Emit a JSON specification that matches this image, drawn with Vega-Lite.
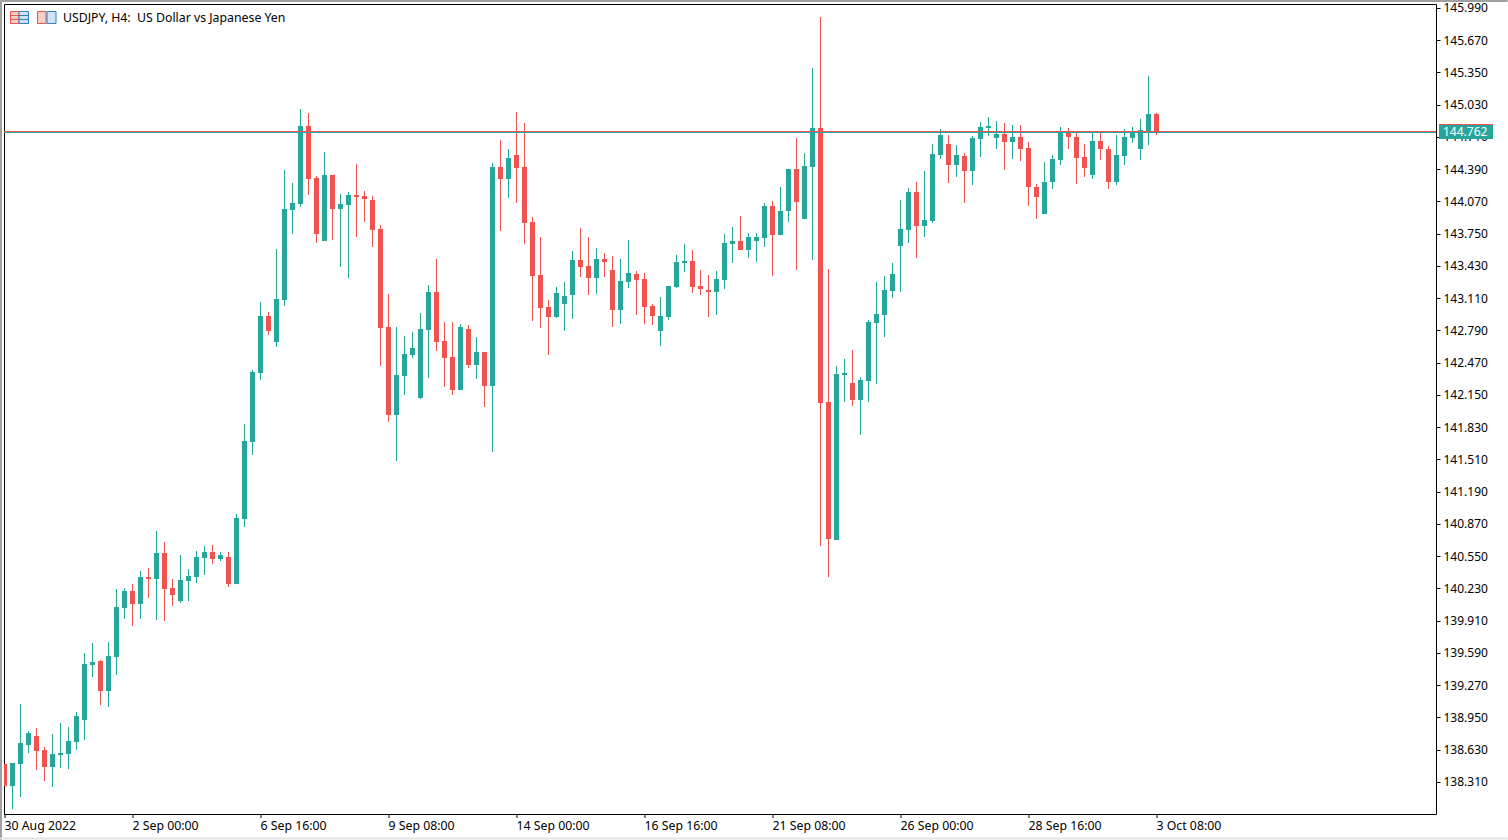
{"$schema":"https://vega.github.io/schema/vega-lite/v6.json","width":1432,"height":810,"autosize":{"type":"none"},"padding":{"left":4,"top":4,"right":72,"bottom":26},"background":"#ffffff","view":{"stroke":"#000000","strokeWidth":1,"fill":"#ffffff"},"config":{"font":"Noto Sans","axis":{"labelOverlap":false,"labelSeparation":0}},
"datasets":{"candles":[
{"t":0,"o":138.488,"h":138.488,"l":138.269,"c":138.269,"d":"down"},
{"t":1,"o":138.269,"h":138.498,"l":138.041,"c":138.498,"d":"up"},
{"t":2,"o":138.488,"h":139.083,"l":138.160,"c":138.696,"d":"up"},
{"t":3,"o":138.676,"h":138.815,"l":138.597,"c":138.795,"d":"up"},
{"t":4,"o":138.766,"h":138.845,"l":138.428,"c":138.617,"d":"down"},
{"t":5,"o":138.627,"h":138.656,"l":138.319,"c":138.458,"d":"down"},
{"t":6,"o":138.458,"h":138.785,"l":138.260,"c":138.587,"d":"up"},
{"t":7,"o":138.577,"h":138.895,"l":138.448,"c":138.597,"d":"up"},
{"t":8,"o":138.587,"h":138.855,"l":138.438,"c":138.716,"d":"up"},
{"t":9,"o":138.706,"h":139.004,"l":138.627,"c":138.964,"d":"up"},
{"t":10,"o":138.924,"h":139.589,"l":138.726,"c":139.480,"d":"up"},
{"t":11,"o":139.470,"h":139.688,"l":139.351,"c":139.500,"d":"up"},
{"t":12,"o":139.510,"h":139.520,"l":139.073,"c":139.212,"d":"down"},
{"t":13,"o":139.212,"h":139.698,"l":139.053,"c":139.559,"d":"up"},
{"t":14,"o":139.550,"h":140.224,"l":139.371,"c":140.046,"d":"up"},
{"t":15,"o":140.036,"h":140.234,"l":139.927,"c":140.205,"d":"up"},
{"t":16,"o":140.205,"h":140.274,"l":139.857,"c":140.076,"d":"down"},
{"t":17,"o":140.076,"h":140.403,"l":139.927,"c":140.343,"d":"up"},
{"t":18,"o":140.343,"h":140.433,"l":140.135,"c":140.324,"d":"down"},
{"t":19,"o":140.324,"h":140.800,"l":139.917,"c":140.582,"d":"up"},
{"t":20,"o":140.582,"h":140.691,"l":139.907,"c":140.224,"d":"down"},
{"t":21,"o":140.234,"h":140.324,"l":140.056,"c":140.165,"d":"down"},
{"t":22,"o":140.105,"h":140.562,"l":140.085,"c":140.314,"d":"up"},
{"t":23,"o":140.304,"h":140.423,"l":140.105,"c":140.353,"d":"up"},
{"t":24,"o":140.343,"h":140.601,"l":140.284,"c":140.542,"d":"up"},
{"t":25,"o":140.532,"h":140.651,"l":140.363,"c":140.592,"d":"up"},
{"t":26,"o":140.592,"h":140.661,"l":140.472,"c":140.522,"d":"down"},
{"t":27,"o":140.522,"h":140.592,"l":140.502,"c":140.562,"d":"up"},
{"t":28,"o":140.542,"h":140.592,"l":140.244,"c":140.274,"d":"down"},
{"t":29,"o":140.274,"h":140.969,"l":140.274,"c":140.929,"d":"up"},
{"t":30,"o":140.919,"h":141.862,"l":140.840,"c":141.693,"d":"up"},
{"t":31,"o":141.683,"h":142.398,"l":141.554,"c":142.378,"d":"up"},
{"t":32,"o":142.368,"h":143.072,"l":142.298,"c":142.933,"d":"up"},
{"t":33,"o":142.933,"h":142.973,"l":142.745,"c":142.785,"d":"down"},
{"t":34,"o":142.675,"h":143.598,"l":142.626,"c":143.102,"d":"up"},
{"t":35,"o":143.092,"h":144.382,"l":143.033,"c":143.995,"d":"up"},
{"t":36,"o":143.985,"h":144.253,"l":143.747,"c":144.055,"d":"up"},
{"t":37,"o":144.045,"h":144.987,"l":144.015,"c":144.819,"d":"up"},
{"t":38,"o":144.819,"h":144.948,"l":144.134,"c":144.293,"d":"down"},
{"t":39,"o":144.303,"h":144.323,"l":143.658,"c":143.747,"d":"down"},
{"t":40,"o":143.678,"h":144.561,"l":143.678,"c":144.333,"d":"up"},
{"t":41,"o":144.333,"h":144.333,"l":143.687,"c":143.995,"d":"down"},
{"t":42,"o":143.995,"h":144.144,"l":143.420,"c":144.045,"d":"up"},
{"t":43,"o":144.035,"h":144.164,"l":143.310,"c":144.134,"d":"up"},
{"t":44,"o":144.134,"h":144.442,"l":143.717,"c":144.114,"d":"down"},
{"t":45,"o":144.124,"h":144.174,"l":143.866,"c":144.094,"d":"down"},
{"t":46,"o":144.084,"h":144.124,"l":143.618,"c":143.787,"d":"down"},
{"t":47,"o":143.797,"h":143.836,"l":142.437,"c":142.814,"d":"down"},
{"t":48,"o":142.824,"h":143.152,"l":141.882,"c":141.951,"d":"down"},
{"t":49,"o":141.951,"h":142.824,"l":141.495,"c":142.348,"d":"up"},
{"t":50,"o":142.338,"h":142.735,"l":142.149,"c":142.556,"d":"up"},
{"t":51,"o":142.546,"h":142.775,"l":142.517,"c":142.616,"d":"up"},
{"t":52,"o":142.120,"h":142.963,"l":142.110,"c":142.804,"d":"up"},
{"t":53,"o":142.794,"h":143.241,"l":142.318,"c":143.171,"d":"up"},
{"t":54,"o":143.171,"h":143.499,"l":142.586,"c":142.675,"d":"down"},
{"t":55,"o":142.685,"h":142.874,"l":142.229,"c":142.517,"d":"down"},
{"t":56,"o":142.526,"h":142.874,"l":142.149,"c":142.199,"d":"down"},
{"t":57,"o":142.199,"h":142.854,"l":142.199,"c":142.824,"d":"up"},
{"t":58,"o":142.804,"h":142.844,"l":142.417,"c":142.447,"d":"down"},
{"t":59,"o":142.447,"h":142.725,"l":142.308,"c":142.576,"d":"up"},
{"t":60,"o":142.576,"h":142.576,"l":142.030,"c":142.239,"d":"down"},
{"t":61,"o":142.239,"h":144.452,"l":141.584,"c":144.412,"d":"up"},
{"t":62,"o":144.412,"h":144.680,"l":143.777,"c":144.293,"d":"down"},
{"t":63,"o":144.293,"h":144.590,"l":144.104,"c":144.501,"d":"up"},
{"t":64,"o":144.531,"h":144.958,"l":144.055,"c":144.402,"d":"down"},
{"t":65,"o":144.412,"h":144.848,"l":143.648,"c":143.856,"d":"down"},
{"t":66,"o":143.866,"h":143.916,"l":142.884,"c":143.330,"d":"down"},
{"t":67,"o":143.340,"h":143.717,"l":142.814,"c":143.013,"d":"down"},
{"t":68,"o":143.023,"h":143.092,"l":142.546,"c":142.923,"d":"down"},
{"t":69,"o":142.923,"h":143.221,"l":142.914,"c":143.162,"d":"up"},
{"t":70,"o":143.052,"h":143.271,"l":142.785,"c":143.132,"d":"up"},
{"t":71,"o":143.142,"h":143.578,"l":142.904,"c":143.489,"d":"up"},
{"t":72,"o":143.489,"h":143.807,"l":143.320,"c":143.420,"d":"down"},
{"t":73,"o":143.430,"h":143.717,"l":143.142,"c":143.310,"d":"down"},
{"t":74,"o":143.310,"h":143.608,"l":143.152,"c":143.499,"d":"up"},
{"t":75,"o":143.499,"h":143.558,"l":143.320,"c":143.469,"d":"down"},
{"t":76,"o":143.390,"h":143.529,"l":142.824,"c":142.993,"d":"down"},
{"t":77,"o":142.993,"h":143.499,"l":142.854,"c":143.281,"d":"up"},
{"t":78,"o":143.271,"h":143.687,"l":143.211,"c":143.360,"d":"up"},
{"t":79,"o":143.350,"h":143.380,"l":142.943,"c":143.291,"d":"down"},
{"t":80,"o":143.300,"h":143.360,"l":142.854,"c":143.023,"d":"down"},
{"t":81,"o":143.033,"h":143.052,"l":142.844,"c":142.933,"d":"down"},
{"t":82,"o":142.785,"h":143.122,"l":142.636,"c":142.933,"d":"up"},
{"t":83,"o":142.923,"h":143.231,"l":142.894,"c":143.231,"d":"up"},
{"t":84,"o":143.221,"h":143.539,"l":143.211,"c":143.469,"d":"up"},
{"t":85,"o":143.459,"h":143.648,"l":143.370,"c":143.479,"d":"up"},
{"t":86,"o":143.479,"h":143.588,"l":143.162,"c":143.221,"d":"down"},
{"t":87,"o":143.231,"h":143.390,"l":143.142,"c":143.201,"d":"down"},
{"t":88,"o":143.191,"h":143.340,"l":142.923,"c":143.171,"d":"down"},
{"t":89,"o":143.171,"h":143.380,"l":142.943,"c":143.300,"d":"up"},
{"t":90,"o":143.291,"h":143.747,"l":143.201,"c":143.658,"d":"up"},
{"t":91,"o":143.648,"h":143.816,"l":143.459,"c":143.678,"d":"up"},
{"t":92,"o":143.678,"h":143.926,"l":143.588,"c":143.588,"d":"down"},
{"t":93,"o":143.588,"h":143.757,"l":143.509,"c":143.717,"d":"up"},
{"t":94,"o":143.678,"h":143.757,"l":143.469,"c":143.717,"d":"up"},
{"t":95,"o":143.707,"h":144.055,"l":143.618,"c":144.025,"d":"up"},
{"t":96,"o":144.025,"h":144.075,"l":143.330,"c":143.737,"d":"down"},
{"t":97,"o":143.737,"h":144.213,"l":143.737,"c":143.975,"d":"up"},
{"t":98,"o":143.975,"h":144.392,"l":143.866,"c":144.392,"d":"up"},
{"t":99,"o":144.392,"h":144.700,"l":143.390,"c":144.065,"d":"down"},
{"t":100,"o":143.896,"h":144.551,"l":143.896,"c":144.422,"d":"up"},
{"t":101,"o":144.412,"h":145.394,"l":143.489,"c":144.799,"d":"up"},
{"t":102,"o":144.799,"h":145.900,"l":140.651,"c":142.070,"d":"down"},
{"t":103,"o":142.080,"h":143.400,"l":140.343,"c":140.720,"d":"down"},
{"t":104,"o":140.711,"h":142.437,"l":140.711,"c":142.358,"d":"up"},
{"t":105,"o":142.348,"h":142.507,"l":142.080,"c":142.368,"d":"up"},
{"t":106,"o":142.268,"h":142.596,"l":142.040,"c":142.100,"d":"down"},
{"t":107,"o":142.100,"h":142.328,"l":141.752,"c":142.298,"d":"up"},
{"t":108,"o":142.288,"h":142.894,"l":142.080,"c":142.874,"d":"up"},
{"t":109,"o":142.864,"h":143.271,"l":142.259,"c":142.953,"d":"up"},
{"t":110,"o":142.943,"h":143.330,"l":142.725,"c":143.191,"d":"up"},
{"t":111,"o":143.181,"h":143.459,"l":143.112,"c":143.350,"d":"up"},
{"t":112,"o":143.628,"h":144.084,"l":143.171,"c":143.797,"d":"up"},
{"t":113,"o":143.787,"h":144.203,"l":143.658,"c":144.164,"d":"up"},
{"t":114,"o":144.164,"h":144.263,"l":143.509,"c":143.826,"d":"down"},
{"t":115,"o":143.826,"h":144.372,"l":143.717,"c":143.886,"d":"up"},
{"t":116,"o":143.876,"h":144.640,"l":143.856,"c":144.541,"d":"up"},
{"t":117,"o":144.531,"h":144.789,"l":144.491,"c":144.729,"d":"up"},
{"t":118,"o":144.640,"h":144.729,"l":144.253,"c":144.432,"d":"down"},
{"t":119,"o":144.432,"h":144.630,"l":144.313,"c":144.531,"d":"up"},
{"t":120,"o":144.521,"h":144.551,"l":144.055,"c":144.372,"d":"down"},
{"t":121,"o":144.372,"h":144.720,"l":144.233,"c":144.700,"d":"up"},
{"t":122,"o":144.690,"h":144.858,"l":144.511,"c":144.809,"d":"up"},
{"t":123,"o":144.799,"h":144.908,"l":144.720,"c":144.819,"d":"up"},
{"t":124,"o":144.700,"h":144.868,"l":144.590,"c":144.739,"d":"up"},
{"t":125,"o":144.739,"h":144.848,"l":144.382,"c":144.660,"d":"down"},
{"t":126,"o":144.660,"h":144.829,"l":144.491,"c":144.710,"d":"up"},
{"t":127,"o":144.710,"h":144.829,"l":144.471,"c":144.590,"d":"down"},
{"t":128,"o":144.600,"h":144.660,"l":144.025,"c":144.213,"d":"down"},
{"t":129,"o":144.213,"h":144.243,"l":143.896,"c":144.114,"d":"down"},
{"t":130,"o":143.945,"h":144.461,"l":143.945,"c":144.263,"d":"up"},
{"t":131,"o":144.263,"h":144.531,"l":144.194,"c":144.491,"d":"up"},
{"t":132,"o":144.481,"h":144.809,"l":144.432,"c":144.769,"d":"up"},
{"t":133,"o":144.769,"h":144.799,"l":144.590,"c":144.710,"d":"down"},
{"t":134,"o":144.710,"h":144.759,"l":144.243,"c":144.501,"d":"down"},
{"t":135,"o":144.511,"h":144.640,"l":144.313,"c":144.402,"d":"down"},
{"t":136,"o":144.333,"h":144.759,"l":144.293,"c":144.670,"d":"up"},
{"t":137,"o":144.670,"h":144.769,"l":144.481,"c":144.590,"d":"down"},
{"t":138,"o":144.590,"h":144.620,"l":144.194,"c":144.263,"d":"down"},
{"t":139,"o":144.263,"h":144.729,"l":144.233,"c":144.531,"d":"up"},
{"t":140,"o":144.521,"h":144.789,"l":144.432,"c":144.710,"d":"up"},
{"t":141,"o":144.700,"h":144.809,"l":144.650,"c":144.749,"d":"up"},
{"t":142,"o":144.590,"h":144.888,"l":144.481,"c":144.779,"d":"up"},
{"t":143,"o":144.769,"h":145.315,"l":144.630,"c":144.938,"d":"up"},
{"t":144,"o":144.938,"h":144.948,"l":144.729,"c":144.749,"d":"down"}
],"levels":[{"d":"down","price":144.764},{"d":"up","price":144.754}]},
"layer":[
{"data":{"name":"candles"},"mark":{"type":"rule","strokeWidth":1,"clip":true},"encoding":{
"x":{"field":"t","type":"quantitative","scale":{"domain":[-0.0625,178.9375],"nice":false,"zero":false,"padding":0},"axis":{"title":null,"translate":0,"domain":false,"values":[0,16,32,48,64,80,96,112,128,144],"labelExpr":"['30 Aug 2022','2 Sep 00:00','6 Sep 16:00','9 Sep 08:00','14 Sep 00:00','16 Sep 16:00','21 Sep 08:00','26 Sep 00:00','28 Sep 16:00','3 Oct 08:00'][datum.value/16]","grid":false,"tickColor":"#000000","tickSize":4,"labelAlign":"left","labelBaseline":"top","labelPadding":2,"labelFontSize":12.3,"labelFont":"Noto Sans","labelColor":"#000000","labelFlush":false,"labelBound":false,"labelOverlap":false}},
"y":{"field":"h","type":"quantitative","scale":{"domain":[137.992,146.029],"nice":false,"zero":false,"padding":0},"axis":{"title":null,"orient":"right","domain":false,"tickCount":25,"values":[145.99,145.67,145.35,145.03,144.71,144.39,144.07,143.75,143.43,143.11,142.79,142.47,142.15,141.83,141.51,141.19,140.87,140.55,140.23,139.91,139.59,139.27,138.95,138.63,138.31],"format":".3f","grid":false,"tickColor":"#000000","tickSize":4,"labelPadding":3,"labelFontSize":12,"labelFont":"Noto Sans","labelColor":"#000000","labelFlush":false,"labelBound":false,"labelOverlap":false}},
"y2":{"field":"l"},
"color":{"field":"d","type":"nominal","scale":{"domain":["up","down"],"range":["#26A69A","#EF5350"]},"legend":null}}},
{"data":{"name":"candles"},"mark":{"type":"bar","width":5,"clip":true},"encoding":{"x":{"field":"t","type":"quantitative"},"y":{"field":"o","type":"quantitative"},"y2":{"field":"c"},"color":{"field":"d","type":"nominal","legend":null}}},
{"data":{"name":"levels"},"mark":{"type":"rule","strokeWidth":1,"clip":true},"encoding":{"y":{"field":"price","type":"quantitative"},"color":{"field":"d","type":"nominal","legend":null}}},
{"data":{"values":[{"tag":"144.762"}]},"mark":{"type":"rect","fill":"#26A69A","clip":false},"encoding":{"x":{"datum":179.3125,"type":"quantitative"},"x2":{"datum":186.0625},"y":{"datum":144.829,"type":"quantitative"},"y2":{"datum":144.690}}},
{"data":{"values":[{"tag":"144.762"}]},"mark":{"type":"rect","fill":"#EF5350","clip":false},"encoding":{"x":{"datum":179.3125,"type":"quantitative"},"x2":{"datum":186.0625},"y":{"datum":144.839,"type":"quantitative"},"y2":{"datum":144.829}}},
{"data":{"values":[{"tag":"144.762"}]},"mark":{"type":"text","color":"#ffffff","align":"left","baseline":"middle","fontSize":12,"font":"Noto Sans","clip":false},"encoding":{"x":{"datum":179.8125,"type":"quantitative"},"y":{"datum":144.759,"type":"quantitative"},"text":{"field":"tag"}}},
{"data":{"values":[{"label":"USDJPY, H4:\u00a0 US Dollar vs Japanese Yen"}]},"mark":{"type":"text","color":"#000000","align":"left","baseline":"middle","fontSize":12.3,"font":"Noto Sans"},"encoding":{"x":{"datum":7.31,"type":"quantitative"},"y":{"datum":145.89,"type":"quantitative"},"text":{"field":"label"}}},
{"mark":{"type":"rect","fill":"#f9cfca","stroke":"#e8534d"},"data":{"values":[{"icon":"a"}]},"encoding":{"x":{"datum":0.75,"type":"quantitative"},"x2":{"datum":1.81},"y":{"datum":145.955,"type":"quantitative"},"y2":{"datum":145.836}}},
{"mark":{"type":"rect","fill":"#cfe3f4","stroke":"#2c7fc1"},"data":{"values":[{"icon":"a"}]},"encoding":{"x":{"datum":1.81,"type":"quantitative"},"x2":{"datum":3.0},"y":{"datum":145.955,"type":"quantitative"},"y2":{"datum":145.836}}},
{"mark":{"type":"rect","fill":"#f9cfca","stroke":"#e8534d"},"data":{"values":[{"icon":"b"}]},"encoding":{"x":{"datum":4.125,"type":"quantitative"},"x2":{"datum":5.19},"y":{"datum":145.955,"type":"quantitative"},"y2":{"datum":145.836}}},
{"mark":{"type":"rect","fill":"#cfe3f4","stroke":"#2c7fc1"},"data":{"values":[{"icon":"b"}]},"encoding":{"x":{"datum":5.31,"type":"quantitative"},"x2":{"datum":6.44},"y":{"datum":145.955,"type":"quantitative"},"y2":{"datum":145.836}}},
{"mark":{"type":"rule","stroke":"#e8534d","strokeWidth":1},"data":{"values":[{"v":145.915},{"v":145.876}]},"encoding":{"x":{"datum":0.75,"type":"quantitative"},"x2":{"datum":1.81},"y":{"field":"v","type":"quantitative"}}},
{"mark":{"type":"rule","stroke":"#2c7fc1","strokeWidth":1},"data":{"values":[{"v":145.915},{"v":145.876}]},"encoding":{"x":{"datum":1.81,"type":"quantitative"},"x2":{"datum":3.0},"y":{"field":"v","type":"quantitative"}}},
{"mark":{"type":"rule","stroke":"#a0a0a0","strokeWidth":2,"clip":false},"data":{"values":[{"edge":"left"}]},"encoding":{"x":{"datum":-0.4375,"type":"quantitative"},"y":{"datum":146.069,"type":"quantitative"},"y2":{"datum":137.734}}},
{"mark":{"type":"rule","stroke":"#a0a0a0","strokeWidth":2,"clip":false},"data":{"values":[{"edge":"top"}]},"encoding":{"x":{"datum":-0.5625,"type":"quantitative"},"x2":{"datum":187.9},"y":{"datum":146.059,"type":"quantitative"}}},
{"mark":{"type":"rule","stroke":"#e3e3e3","strokeWidth":2,"clip":false},"data":{"values":[{"edge":"bottom"}]},"encoding":{"x":{"datum":-0.5625,"type":"quantitative"},"x2":{"datum":187.9},"y":{"datum":137.748,"type":"quantitative"}}}
]}
